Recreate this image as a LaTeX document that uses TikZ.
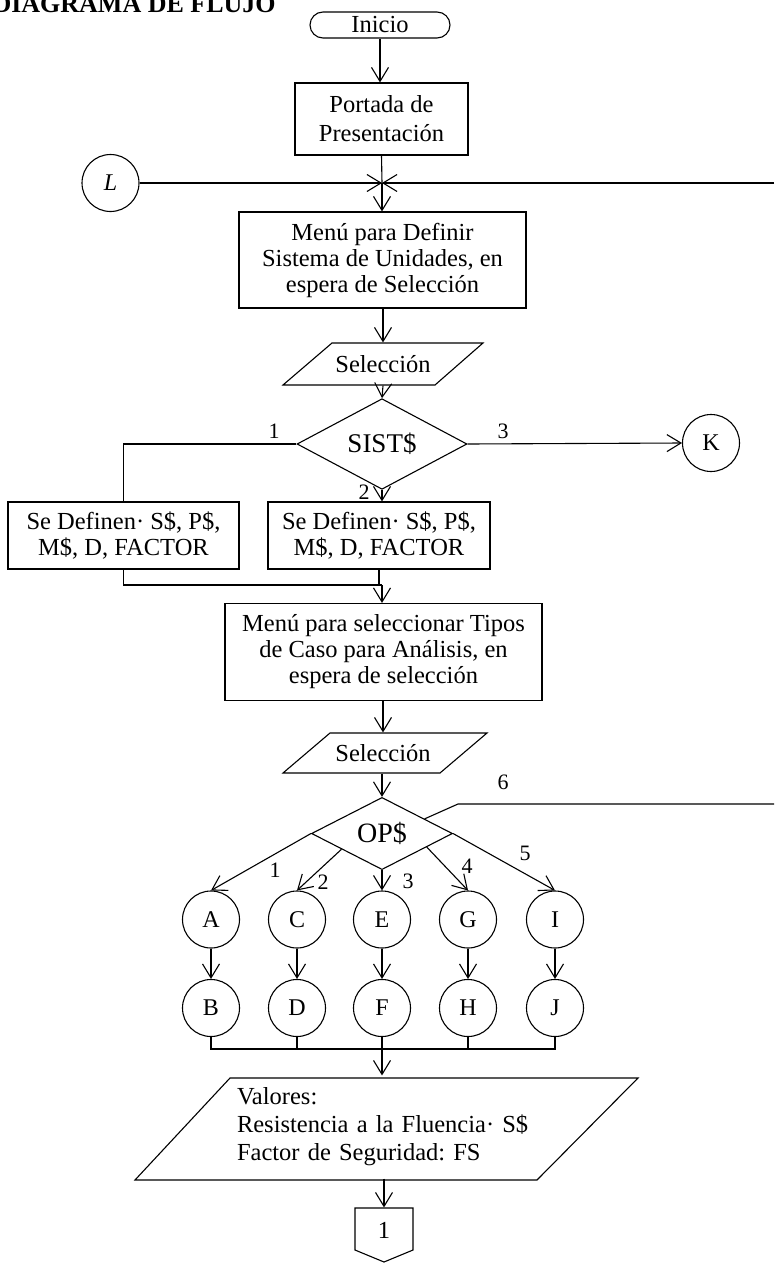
\documentclass[tikz,border=0pt]{standalone}
\usepackage{fontspec}
\setmainfont{Liberation Serif}
\usetikzlibrary{arrows.meta,shapes.geometric,calc}
\frenchspacing
\begin{document}
\begin{tikzpicture}[x=1pt,y=-1pt,
  line width=1.1pt,
  every node/.style={font=\fontsize{24.5}{26}\selectfont, inner sep=0pt},
  arr/.style={-{Straight Barb[length=14pt,width=17pt]}},
  box/.style={draw, rectangle, align=center},
  conn/.style={draw, circle, minimum size=57pt, font=\fontsize{24}{24}\selectfont},
  dec/.style={draw, diamond, inner sep=0pt},
  lab/.style={font=\fontsize{22}{22}\selectfont}]
\useasboundingbox (0,0) rectangle (774,1263);
\clip (0,0) rectangle (774,1263);

\node[anchor=base west, font=\bfseries\fontsize{26}{26}\selectfont] (title) at (-8,13) {DIAGRAMA DE FLUJO};

\node[draw, rounded corners=13pt, minimum width=140pt, minimum height=26pt] (ini) at (380,25) {Inicio};
\node[box, minimum width=173pt, minimum height=72pt, font=\fontsize{24.5}{29}\selectfont] (port) at (381.5,119) {Portada de\\Presentación};
\node[conn, font=\itshape\fontsize{24}{24}\selectfont] (L) at (110.5,183) {L};
\coordinate (j1) at (382,183);
\coordinate (r1) at (774,183);
\node[box, minimum width=287pt, minimum height=96pt] (menu1) at (382.5,260) {Menú para Definir\\Sistema de Unidades, en\\espera de Selección};
\node[minimum width=152pt, minimum height=42pt] (sel1) at (383,364) {Selección};
\draw (283,385) -- (435,385) -- (483,343) -- (332,343) -- cycle;
\node[dec, minimum width=170pt, minimum height=56pt, font=\fontsize{27}{27}\selectfont] (sist) at (382,444) {SIST\$};
\node[conn] (K) at (711,443) {K};
\node[box, minimum width=231pt, minimum height=67pt] (b1) at (123.5,535.5) {Se Definen· S\$, P\$,\\M\$, D, FACTOR};
\node[box, minimum width=222pt, minimum height=67pt] (b2) at (379,535.5) {Se Definen· S\$, P\$,\\M\$, D, FACTOR};
\coordinate (m1) at (382,585);
\node[box, minimum width=317pt, minimum height=97pt] (menu2) at (383.5,652) {Menú para seleccionar Tipos\\de Caso para Análisis, en\\espera de selección};
\node[minimum width=157pt, minimum height=40pt] (sel2) at (383,753) {Selección};
\draw (283,773) -- (440,773) -- (487,733) -- (330,733) -- cycle;
\node[dec, minimum width=141pt, minimum height=57pt, font=\fontsize{28}{28}\selectfont] (op) at (382,833.5) {OP\$};
\coordinate (c6) at (458,804);
\coordinate (r6) at (774,804);

\foreach \n/\x in {A/211,C/297,E/382,G/468,I/555}{\node[conn] (\n) at (\x,919.5) {\n};}
\foreach \n/\x in {B/211,D/297,F/382,H/468,J/555}{\node[conn] (\n) at (\x,1008) {\n};}
\coordinate (mB) at (382,1049);

\node[minimum height=102pt, text width=299pt, align=left, font=\fontsize{24.5}{28}\selectfont] (val) at (386.5,1127) {Valores:\\Resistencia a la Fluencia· S\$\\Factor de Seguridad: FS};
\draw (135,1180) -- (537,1180) -- (638,1078) -- (230,1078) -- cycle;
\node[minimum width=58pt, minimum height=44pt] (c1) at (384,1230) {1};
\draw (355,1208) -- (413,1208) -- (413,1250) -- (384,1262) -- (355,1250) -- cycle;

% connectors
\draw[arr] (ini.south) -- (ini.south |- port.north);
\draw (port.south) -- (j1);
\draw[arr] (L.east) -- (j1);
\draw[arr] (r1) -- (j1);
\draw[arr] (j1) -- (j1 |- menu1.north);
\draw[arr] (menu1.south -| sel1) -- (sel1.north);
\draw[arr] (sel1.south) -- (sist.north);
\draw (sist.west) -| (b1.north);
\draw[arr] (sist.south) -- (sist.south |- b2.north);
\draw[arr] (sist.east) -- (K.west);
\draw (b1.south) |- (m1);
\draw (b2.south) -- (b2.south |- m1);
\draw[arr] (m1) -- (m1 |- menu2.north);
\draw[arr] (menu2.south -| sel2) -- (sel2.north);
\draw[arr] (sel2.south -| op) -- (op.north);
\draw ($(op.north)!0.6!(op.east)$) -- (c6) -- (r6);
\draw[arr] (op.west) -- (A.north);
\draw[arr] ($(op.south)!0.57!(op.west)$) -- (C.north);
\draw[arr] (op.south) -- (E.north);
\draw[arr] ($(op.south)!0.63!(op.east)$) -- (G.north);
\draw[arr] (op.east) -- (I.north);
\foreach \a/\b in {A/B,C/D,E/F,G/H,I/J}{\draw[arr] (\a.south) -- (\b.north);}
\draw (B.south) |- (mB) -| (J.south);
\foreach \n in {D,F,H}{\draw (\n.south) -- (\n.south |- mB);}
\draw[arr] (mB) -- (mB |- val.north);
\draw[arr] (c1.north |- val.south) -- (c1.north);

% labels
\node[lab] at (274,431) {1};
\node[lab] at (364,492) {2};
\node[lab] at (503,431) {3};
\node[lab] at (275,870) {1};
\node[lab] at (323,882) {2};
\node[lab] at (408,881) {3};
\node[lab] at (467,866) {4};
\node[lab] at (525,853) {5};
\node[lab] at (503,782) {6};
\end{tikzpicture}
\end{document}
